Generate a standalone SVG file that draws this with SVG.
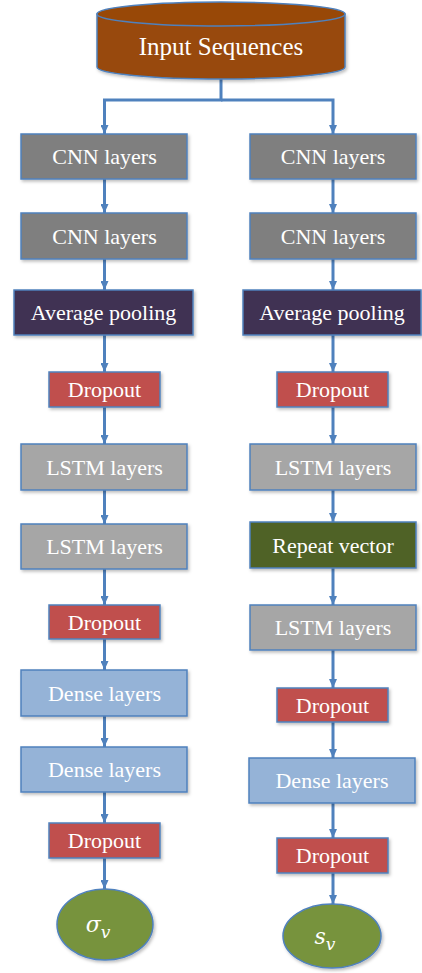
<svg xmlns="http://www.w3.org/2000/svg" width="422" height="973" viewBox="0 0 422 973">
<defs>
<marker id="ah" markerUnits="userSpaceOnUse" markerWidth="10" markerHeight="8" refX="9" refY="4" orient="auto">
<path d="M0,0 L9,4 L0,8 Z" fill="#4f81bd"/>
</marker>
<filter id="sh" x="-10%" y="-10%" width="125%" height="140%">
<feDropShadow dx="1.5" dy="2" stdDeviation="1.5" flood-color="#000" flood-opacity="0.25"/>
</filter>
<style>
.b{stroke:#4f81bd;stroke-width:1.5;filter:url(#sh)}
.t{font-family:"Liberation Serif","Times New Roman",serif;font-size:22px;fill:#fff;text-anchor:middle}
.c{fill:none;stroke:#4f81bd;stroke-width:3;marker-end:url(#ah)}
.cnn{fill:#7f7f7f}
.avg{fill:#403152}
.drop{fill:#c0504d}
.lstm{fill:#a6a6a6}
.rep{fill:#4f6228}
.dense{fill:#95b3d7}
.out{fill:#77933c}
</style>
</defs>
<rect width="422" height="973" fill="#fff"/>
<g id="connectors">
<path class="c" d="M221,79 V100 H104.5 V134"/>
<path class="c" d="M221,100 H333 V134"/>
<path class="c" d="M104.5,179 V213"/>
<path class="c" d="M104.5,259 V290"/>
<path class="c" d="M104.5,335 V372"/>
<path class="c" d="M104.5,407 V444"/>
<path class="c" d="M104.5,490 V524"/>
<path class="c" d="M104.5,569 V605"/>
<path class="c" d="M104.5,639 V670"/>
<path class="c" d="M104.5,716 V747"/>
<path class="c" d="M104.5,792 V823"/>
<path class="c" d="M104.5,858 V889"/>
<path class="c" d="M333,179 V213"/>
<path class="c" d="M333,259 V290"/>
<path class="c" d="M333,335 V372"/>
<path class="c" d="M333,407 V444"/>
<path class="c" d="M333,490 V522"/>
<path class="c" d="M333,568 V605"/>
<path class="c" d="M333,650 V688"/>
<path class="c" d="M333,722 V758"/>
<path class="c" d="M333,803 V838"/>
<path class="c" d="M333,873 V904"/>
</g>
<g id="input">
<path d="M97,14 V67 A124,12 0 0 0 345,67 V14 Z" fill="#984807" stroke="#4f81bd" stroke-width="1.5" filter="url(#sh)"/>
<ellipse cx="221" cy="14" rx="124" ry="12" fill="#984807" stroke="#4f81bd" stroke-width="1.5"/>
<text class="t" x="221" y="55" style="font-size:25px">Input Sequences</text>
</g>
<g id="L_cnn1"><rect class="b cnn" x="21" y="134" width="166" height="45"/><text class="t" x="104.5" y="164">CNN layers</text></g>
<g id="L_cnn2"><rect class="b cnn" x="21" y="213" width="166" height="46"/><text class="t" x="104.5" y="244">CNN layers</text></g>
<g id="L_avg"><rect class="b avg" x="14" y="290" width="179" height="45"/><text class="t" x="103.5" y="320">Average pooling</text></g>
<g id="L_drop1"><rect class="b drop" x="49" y="372" width="111" height="35"/><text class="t" x="104.5" y="397">Dropout</text></g>
<g id="L_lstm1"><rect class="b lstm" x="21" y="444" width="166" height="46"/><text class="t" x="104.5" y="475">LSTM layers</text></g>
<g id="L_lstm2"><rect class="b lstm" x="21" y="524" width="166" height="45"/><text class="t" x="104.5" y="554">LSTM layers</text></g>
<g id="L_drop2"><rect class="b drop" x="49" y="605" width="111" height="34"/><text class="t" x="104.5" y="630">Dropout</text></g>
<g id="L_dense1"><rect class="b dense" x="21" y="670" width="166" height="46"/><text class="t" x="104.5" y="701">Dense layers</text></g>
<g id="L_dense2"><rect class="b dense" x="21" y="747" width="166" height="45"/><text class="t" x="104.5" y="777">Dense layers</text></g>
<g id="L_drop3"><rect class="b drop" x="49" y="823" width="111" height="35"/><text class="t" x="104.5" y="848">Dropout</text></g>
<g id="L_out"><ellipse class="b out" cx="105" cy="924.5" rx="48" ry="35.5"/><text x="98" y="932" style="font-family:'DejaVu Serif','Liberation Serif',serif;font-style:italic;font-size:22px;fill:#fff;text-anchor:middle">σ<tspan dy="6" style="font-size:17px">v</tspan></text></g>
<g id="R_cnn1"><rect class="b cnn" x="250" y="134" width="166" height="45"/><text class="t" x="333" y="164">CNN layers</text></g>
<g id="R_cnn2"><rect class="b cnn" x="250" y="213" width="166" height="46"/><text class="t" x="333" y="244">CNN layers</text></g>
<g id="R_avg"><rect class="b avg" x="243" y="290" width="178" height="45"/><text class="t" x="332" y="320">Average pooling</text></g>
<g id="R_drop1"><rect class="b drop" x="277" y="372" width="111" height="35"/><text class="t" x="332.5" y="397">Dropout</text></g>
<g id="R_lstm1"><rect class="b lstm" x="250" y="444" width="166" height="46"/><text class="t" x="333" y="475">LSTM layers</text></g>
<g id="R_rep"><rect class="b rep" x="250" y="522" width="166" height="46"/><text class="t" x="333" y="553">Repeat vector</text></g>
<g id="R_lstm2"><rect class="b lstm" x="250" y="605" width="166" height="45"/><text class="t" x="333" y="635">LSTM layers</text></g>
<g id="R_drop2"><rect class="b drop" x="277" y="688" width="111" height="34"/><text class="t" x="332.5" y="713">Dropout</text></g>
<g id="R_dense"><rect class="b dense" x="249" y="758" width="166" height="45"/><text class="t" x="332" y="788">Dense layers</text></g>
<g id="R_drop3"><rect class="b drop" x="277" y="838" width="111" height="35"/><text class="t" x="332.5" y="863">Dropout</text></g>
<g id="R_out"><ellipse class="b out" cx="332" cy="936" rx="49" ry="32"/><text x="325" y="944" style="font-family:'DejaVu Serif','Liberation Serif',serif;font-style:italic;font-size:22px;fill:#fff;text-anchor:middle">s<tspan dy="6" style="font-size:17px">v</tspan></text></g>
</svg>
